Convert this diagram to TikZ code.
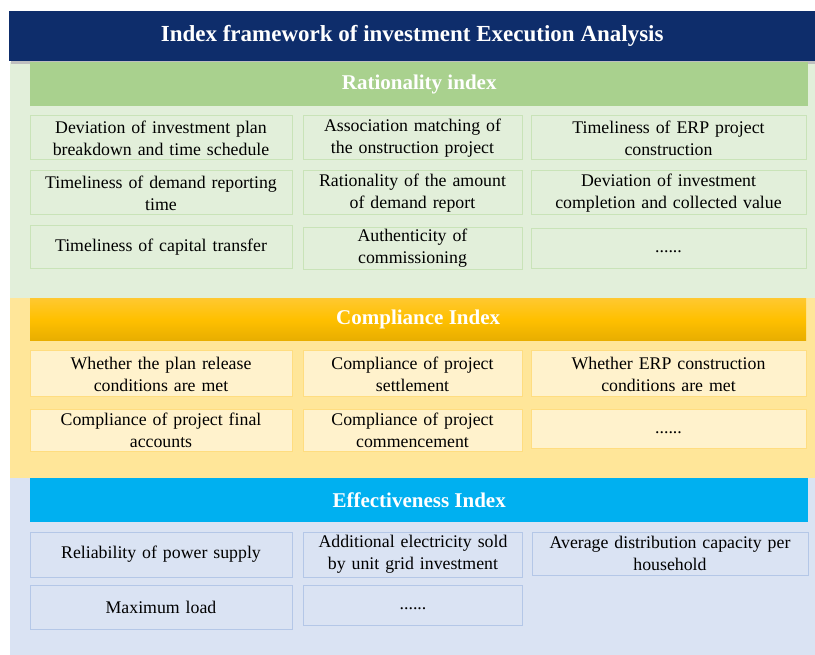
\documentclass[tikz,border=0pt]{standalone}
\usepackage{fontspec}
\setmainfont{Liberation Serif}
\begin{document}
\begin{tikzpicture}[x=1pt,y=-1pt,
  cell/.style={draw=#1, line width=1pt, align=center, inner sep=1pt,
    font=\fontsize{17.8}{22}\selectfont, text=black},
  gcell/.style={cell=gborder, fill=gcellfill},
  ycell/.style={cell=yborder, fill=ycellfill},
  bcell/.style={cell=bborder, fill=bcellfill},
  dotcell/.style={text height=0pt, text depth=0pt},
  head/.style={font=\fontsize{21}{24}\selectfont\bfseries, text=white, inner sep=0pt},
  c1/.style={minimum width=262pt, text width=256pt},
  c2/.style={minimum width=219pt, text width=214pt},
  c3/.style={minimum width=275pt, text width=268pt}]
\definecolor{navy}{HTML}{0E2D6B}
\definecolor{gbg}{HTML}{E2EFDA}
\definecolor{ghead}{HTML}{A9D18E}
\definecolor{gborder}{HTML}{C9E3B8}
\definecolor{gcellfill}{HTML}{E2EFDA}
\definecolor{ybg}{HTML}{FFE699}
\definecolor{ytop}{HTML}{FFC830}
\definecolor{ymid}{HTML}{FFC000}
\definecolor{ybot}{HTML}{E8AE00}
\definecolor{yborder}{HTML}{FFDD80}
\definecolor{ycellfill}{HTML}{FFF2CC}
\definecolor{bbg}{HTML}{DAE3F3}
\definecolor{bhead}{HTML}{00B0F0}
\definecolor{bborder}{HTML}{B4C7E7}
\definecolor{bcellfill}{HTML}{DAE3F3}
\newcommand{\mydots}{\raisebox{-4pt}{......}}
\useasboundingbox (0,0) rectangle (815,655);
\fill[white] (0,0) rectangle (815,655);
% backgrounds
\fill[gbg] (10,62) rectangle (815,298);
\fill[ybg] (10,298) rectangle (815,478);
\fill[bbg] (10,478) rectangle (815,655);
% title
\fill[black!25] (11,14) rectangle (815,64);
\node[fill=navy, minimum width=806pt, minimum height=50pt, anchor=north west, inner sep=0pt,
  font=\fontsize{23}{26}\selectfont\bfseries, text=white] (title) at (9,11)
  {Index framework of investment Execution Analysis};
% Rationality
\node[head, fill=ghead, minimum width=778pt, minimum height=44pt, anchor=north west] (rhead) at (30,62) {Rationality index};
\node[gcell,c1,minimum height=44pt] (r11) at (161,138) {Deviation of investment plan\\breakdown and time schedule};
\node[gcell,c2,minimum height=44pt] (r12) at (412.5,138) {Association matching of\\the onstruction project};
\node[gcell,c3,minimum height=44pt] (r13) at (668.5,138) {Timeliness of ERP project\\construction};
\node[gcell,c1,minimum height=44pt] (r21) at (161,193) {Timeliness of demand reporting\\time};
\node[gcell,c2,minimum height=44pt] (r22) at (412.5,193) {Rationality of the amount\\of demand report};
\node[gcell,c3,minimum height=44pt] (r23) at (668.5,193) {Deviation of investment\\completion and collected value};
\node[gcell,c1,minimum height=43pt] (r31) at (161,247.5) {Timeliness of capital transfer};
\node[gcell,c2,minimum height=42pt] (r32) at (412.5,248.5) {Authenticity of\\commissioning};
\node[gcell,c3,dotcell,minimum height=40pt] (r33) at (668.5,248.5) {\mydots};
% Compliance
\node[head, top color=ytop, bottom color=ybot, middle color=ymid, minimum width=776pt, minimum height=42pt, anchor=north west] (chead) at (30,298) {Compliance Index};
\node[ycell,c1,minimum height=46pt] (p11) at (161,374) {Whether the plan release\\conditions are met};
\node[ycell,c2,minimum height=46pt] (p12) at (412.5,374) {Compliance of project\\settlement};
\node[ycell,c3,minimum height=46pt] (p13) at (668.5,374) {Whether ERP construction\\conditions are met};
\node[ycell,c1,minimum height=41pt] (p21) at (161,430.5) {Compliance of project final\\accounts};
\node[ycell,c2,minimum height=41pt] (p22) at (412.5,430.5) {Compliance of project\\commencement};
\node[ycell,c3,dotcell,minimum height=38pt] (p23) at (668.5,429) {\mydots};
% Effectiveness
\node[head, fill=bhead, minimum width=778pt, minimum height=44pt, anchor=north west] (ehead) at (30,478) {Effectiveness Index};
\node[bcell,c1,minimum height=45pt] (e11) at (161,554.5) {Reliability of power supply};
\node[bcell,c2,minimum height=45pt] (e12) at (413,554.5) {Additional electricity sold\\by unit grid investment};
\node[bcell,minimum width=276pt, text width=270pt,minimum height=43pt] (e13) at (670,553.5) {Average distribution capacity per\\household};
\node[bcell,c1,minimum height=44pt] (e21) at (161,607) {Maximum load};
\node[bcell,c2,dotcell,minimum height=40pt] (e22) at (413,605) {\mydots};
\end{tikzpicture}
\end{document}
